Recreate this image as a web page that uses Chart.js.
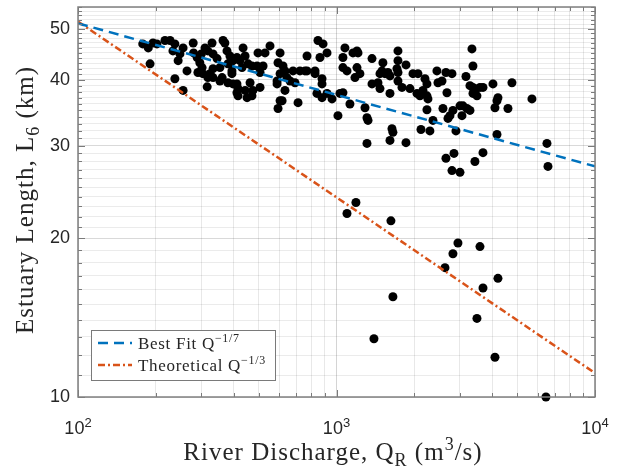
<!DOCTYPE html>
<html>
<head>
<meta charset="utf-8">
<script src="https://cdn.jsdelivr.net/npm/chart.js@4.4.1/dist/chart.umd.min.js"></script>
<style>
html,body{margin:0;padding:0;background:#fff}
</style>
</head>
<body>
<canvas id="estuary" width="621" height="468"></canvas>
<script>
// river discharge (m3/s) and estuary length L6 (km)
const discharge=[178,187,195,202,190,217,227,237,233,248,244,255,237,255,264,279,289,296,302,291,304,310,318,330,333,345,354,333,324,318,333,316,361,364,370,377,387,398,412,387,394,354,380,398,412,416,416,443,451,471,435,443,423,431,455,471,463,475,497,529,493,520,506,506,553,605,594,621,632,605,589,589,643,632,605,594,679,722,755,661,691,710,769,826,840,
769,848,887,919,863,826,879,879,879,919,961,1013,1031,1059,1127,1078,1059,1059,1098,1158,1200,1211,1200,1179,1232,1289,1312,1324,1312,1372,1372,1447,1473,1512,1499,1473,1540,1581,1610,1610,1639,1653,1610,1729,1729,1713,1729,1729,1792,1857,1857,1924,1976,2066,2048,2103,2122,2199,2238,2160,2238,2258,2238,2298,2361,2446,2469,2559,2581,2651,2797,2675,2651,2699,2747,2821,2847,2797,3004,2898,3004,3085,3197,3283,3058,3168,3342,3372,3283,3372,3432,3494,3372,3589,3687,3432,3687,4030,4213,4176,4102,4176,4605,4772,5703,6518,6577,
2950,3589,2821,2628,4213,3687,1653,3494,1396,4102,6460,1189,1098,1624,
280,380,394,412,616,300]
const lengthKm=[46.8,46.0,47.0,46.8,42.9,47.5,47.5,46.8,45.4,44.8,43.5,46.0,40.2,38.2,41.6,47.0,44.1,43.1,42.2,41.3,41.1,46.0,45.4,47.0,44.8,43.9,42.2,42.0,41.1,40.4,40.4,38.8,40.4,47.5,47.0,45.4,44.4,43.5,44.1,42.9,41.6,39.8,39.5,39.3,39.3,38.5,37.3,38.2,37.0,37.3,46.0,44.4,43.5,42.2,42.9,42.5,39.5,38.2,45.0,45.0,42.5,42.5,41.3,38.7,46.4,45.0,43.1,42.5,41.6,41.1,39.3,39.8,40.4,38.2,36.5,35.3,41.6,41.6,41.6,39.8,39.5,36.2,44.4,41.6,37.7,
41.6,47.5,46.8,45.0,44.1,41.1,40.2,39.3,37.0,37.7,36.8,34.2,37.7,37.8,36.0,46.0,44.1,42.2,41.6,45.0,45.4,45.0,42.2,40.4,41.1,35.4,33.9,33.5,30.3,43.9,39.3,39.5,38.5,43.1,41.6,41.1,41.1,41.3,40.7,37.7,32.3,31.8,30.7,45.4,43.5,42.0,41.3,39.8,38.7,42.7,30.4,38.5,41.1,41.1,37.7,37.3,32.2,40.2,39.3,38.2,37.3,36.8,35.1,32.0,33.5,41.6,39.5,39.8,35.3,41.3,41.1,37.8,28.4,33.8,34.2,35.0,29.0,26.9,26.7,32.0,35.7,35.7,35.3,35.0,34.2,40.6,45.8,42.5,39.0,38.7,38.2,37.3,37.7,38.7,38.7,28.0,29.1,39.3,37.0,36.5,35.4,31.5,35.3,39.5,36.8,30.3,27.4,
19.6,19.3,18.7,17.6,16.8,16.1,15.5,14.1,12.9,11.9,10.0,23.4,22.3,21.6,
45.0,42.9,41.1,37.8,36.5,44.8]

// fitted / theoretical power laws, values at the ends of the axis
const fitQ=[100,10000]
const bestFit=[51.2,27.4]
const theory=[51.6,11.1]

const xTicks=[100,1000,10000]
const yTicks=[10,20,30,40,50]
const legendLabels=[["Best Fit Q","\u22121/7"],["Theoretical Q","\u22121/3"]]

// minor grid positions like matlab's log axes
const xGrid=[]
for(let d=100;d<10000;d*=10){for(let k=1;k<10;k++)xGrid.push(d*k)}
xGrid.push(10000)
const yGrid=[]
for(let v=10;v<=55;v++)yGrid.push(v)

const SERIF='"Liberation Serif", "DejaVu Serif", serif'
const SANS='"Liberation Sans", Arial, sans-serif'

// parts: [text, mode, family] mode 0 normal, 1 superscript, -1 subscript
function rich(c,parts,x,y,size,align,spacing){
c.letterSpacing=(spacing||0)+"px"
let w=0
parts.forEach(p=>{c.font=(p[1]?Math.round(size*0.7):size)+"px "+p[2];w+=c.measureText(p[0]).width})
let cx=align==="center"?x-w/2:x
c.textAlign="left"
c.textBaseline="alphabetic"
parts.forEach(p=>{
c.font=(p[1]?Math.round(size*0.7):size)+"px "+p[2]
const dy=p[1]===1?-size*0.4:p[1]===-1?size*0.22:0
c.fillText(p[0],cx,y+dy)
cx+=c.measureText(p[0]).width
})
c.letterSpacing="0px"
}

const frame={
id:"frame",
afterDraw(chart){
const c=chart.ctx,a=chart.chartArea,xs=chart.scales.x,ys=chart.scales.y
c.save()
// inward tick marks on all four sides
c.strokeStyle="#7a7a7a"
c.lineWidth=1
c.beginPath()
xGrid.forEach(v=>{
const px=Math.round(xs.getPixelForValue(v))+0.5
const len=xTicks.includes(v)?7:4
c.moveTo(px,a.bottom);c.lineTo(px,a.bottom-len)
c.moveTo(px,a.top);c.lineTo(px,a.top+len)
})
yGrid.forEach(v=>{
const py=Math.round(ys.getPixelForValue(v))+0.5
const len=yTicks.includes(v)?7:4
c.moveTo(a.left,py);c.lineTo(a.left+len,py)
c.moveTo(a.right,py);c.lineTo(a.right-len,py)
})
c.stroke()
c.strokeStyle="#808080"
c.lineWidth=1.5
c.strokeRect(a.left,a.top,a.right-a.left,a.bottom-a.top)

// x tick labels 10^n
c.fillStyle="#262626"
xTicks.forEach(v=>{
const px=xs.getPixelForValue(v)
rich(c,[["10",0,SANS],[String(Math.round(Math.log10(v))),1,SANS]],px,434,18,"center")
})

// axis titles
c.fillStyle="#262626"
rich(c,[["River Discharge, Q",0,SERIF],["R",-1,SERIF],[" (m",0,SERIF],["3",1,SERIF],["/s)",0,SERIF]],333,460,25,"center",1)
c.translate(33,200)
c.rotate(-Math.PI/2)
rich(c,[["Estuary Length, L",0,SERIF],["6",-1,SERIF],[" (km)",0,SERIF]],0,0,25,"center",1)
c.restore()

// legend box
c.save()
const lx=91,ly=330,lw=184,lh=50
c.fillStyle="#fff"
c.fillRect(lx,ly,lw,lh)
c.strokeStyle="#7a7a7a"
c.lineWidth=1
c.strokeRect(lx+0.5,ly+0.5,lw,lh)
const ds=chart.data.datasets
;[0,1].forEach(i=>{
const yy=ly+13+i*22
c.strokeStyle=ds[i].borderColor
c.lineWidth=2.5
c.setLineDash(ds[i].borderDash)
c.beginPath();c.moveTo(lx+7,yy);c.lineTo(lx+41,yy);c.stroke()
c.setLineDash([])
c.fillStyle="#262626"
rich(c,[[legendLabels[i][0],0,SERIF],[legendLabels[i][1],1,SERIF]],lx+47,yy+6,17,"left",0.7)
})
c.restore()
}
}

const points=discharge.map((q,i)=>({x:q,y:lengthKm[i]}))

new Chart(document.getElementById("estuary"),{
type:"scatter",
data:{datasets:[
{label:"Best Fit",type:"line",data:fitQ.map((q,i)=>({x:q,y:bestFit[i]})),borderColor:"#0072BD",borderWidth:2.5,borderDash:[10,6],pointRadius:0,fill:false,order:1},
{label:"Theoretical",type:"line",data:fitQ.map((q,i)=>({x:q,y:theory[i]})),borderColor:"#D95319",borderWidth:2.5,borderDash:[7,3,2,3],pointRadius:0,fill:false,order:1},
{label:"Estuaries",data:points,backgroundColor:"#000",borderColor:"#000",pointRadius:4.5,borderWidth:0,order:2,clip:false}
]},
options:{
responsive:false,
animation:false,
layout:{padding:{left:0,top:7,right:26,bottom:0}},
plugins:{legend:{display:false},tooltip:{enabled:false}},
scales:{
x:{
type:"logarithmic",min:100,max:10000,
afterBuildTicks(s){s.ticks=xGrid.map(v=>({value:v}))},
afterFit(s){s.height=71;s.paddingLeft=0;s.paddingRight=0},
ticks:{display:false},
grid:{drawTicks:false,color:(ctx)=>xTicks.includes(ctx.tick.value)?"rgba(0,0,0,0.17)":"rgba(0,0,0,0.09)"},
border:{display:false}
},
y:{
type:"logarithmic",min:10,max:55,
afterBuildTicks(s){s.ticks=yGrid.map(v=>({value:v}))},
afterFit(s){s.width=78;s.paddingTop=0;s.paddingBottom=0},
ticks:{autoSkip:false,padding:8,color:"#262626",font:{family:SANS,size:18},callback:(v)=>yTicks.includes(v)?String(v):""},
grid:{drawTicks:false,color:(ctx)=>yTicks.includes(ctx.tick.value)?"rgba(0,0,0,0.15)":"rgba(0,0,0,0.08)"},
border:{display:false}
}
}
},
plugins:[frame]
})
</script>
</body>
</html>
